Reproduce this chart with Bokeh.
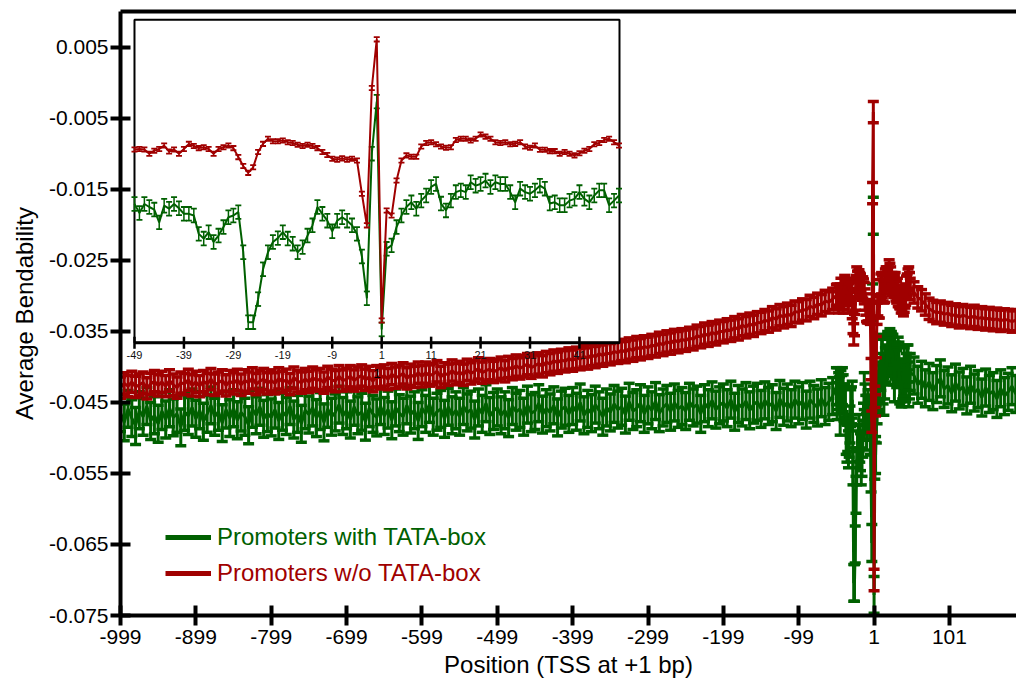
import math
from bokeh.plotting import figure
from bokeh.models import (Range1d, LinearAxis, FixedTicker, Legend, LegendItem,
                          ColumnDataSource, PrintfTickFormatter)
from bokeh.core.properties import value
from bokeh.embed import file_html
from bokeh.resources import INLINE

FONT = "Liberation Sans"
GREEN = "#006000"
RED = "#a00000"

# ---------------- data ----------------
# upstream region, sampled every 5 bp (-999 .. -54)
UP_POS = list(range(-999, -53, 5))
UP_RED = [
    -0.0429, -0.0423, -0.0427, -0.0421, -0.0428, -0.0425, -0.0422, -0.0430, -0.0424, -0.0420,
    -0.0426, -0.0421, -0.0427, -0.0419, -0.0425, -0.0429, -0.0422, -0.0424, -0.0418, -0.0426,
    -0.0421, -0.0427, -0.0420, -0.0424, -0.0417, -0.0425, -0.0422, -0.0419, -0.0426, -0.0420,
    -0.0423, -0.0418, -0.0425, -0.0419, -0.0422, -0.0416, -0.0424, -0.0420, -0.0417, -0.0423,
    -0.0419, -0.0423, -0.0416, -0.0421, -0.0418, -0.0424, -0.0415, -0.0420, -0.0422, -0.0417,
    -0.0421, -0.0415, -0.0419, -0.0417, -0.0422, -0.0414, -0.0418, -0.0420, -0.0413, -0.0419,
    -0.0417, -0.0413, -0.0419, -0.0415, -0.0412, -0.0418, -0.0414, -0.0420, -0.0413, -0.0416,
    -0.0412, -0.0417, -0.0410, -0.0415, -0.0413, -0.0409, -0.0416, -0.0411, -0.0414, -0.0408,
    -0.0413, -0.0408, -0.0412, -0.0410, -0.0406, -0.0414, -0.0409, -0.0411, -0.0405, -0.0410,
    -0.0407, -0.0411, -0.0404, -0.0409, -0.0406, -0.0402, -0.0408, -0.0405, -0.0403, -0.0407,
    -0.0404, -0.0401, -0.0406, -0.0400, -0.0403, -0.0398, -0.0402, -0.0399, -0.0396, -0.0401,
    -0.0398, -0.0395, -0.0399, -0.0393, -0.0396, -0.0391, -0.0394, -0.0390, -0.0392, -0.0388,
    -0.0391, -0.0387, -0.0389, -0.0385, -0.0388, -0.0383, -0.0386, -0.0381, -0.0384, -0.0380,
    -0.0382, -0.0378, -0.0380, -0.0376, -0.0379, -0.0374, -0.0377, -0.0372, -0.0375, -0.0371,
    -0.0373, -0.0369, -0.0371, -0.0366, -0.0369, -0.0364, -0.0367, -0.0362, -0.0365, -0.0361,
    -0.0363, -0.0359, -0.0361, -0.0356, -0.0358, -0.0353, -0.0356, -0.0351, -0.0354, -0.0349,
    -0.0351, -0.0347, -0.0349, -0.0344, -0.0347, -0.0341, -0.0344, -0.0339, -0.0342, -0.0337,
    -0.0338, -0.0334, -0.0336, -0.0330, -0.0333, -0.0327, -0.0330, -0.0325, -0.0328, -0.0322,
    -0.0323, -0.0319, -0.0320, -0.0314, -0.0317, -0.0311, -0.0313, -0.0307, -0.0309, -0.0304,
]
UP_GREEN = [
    -0.0465, -0.0478, -0.0459, -0.0472, -0.0483, -0.0461, -0.0470, -0.0455, -0.0476, -0.0468,
    -0.0480, -0.0462, -0.0474, -0.0458, -0.0471, -0.0466, -0.0485, -0.0463, -0.0469, -0.0457,
    -0.0473, -0.0461, -0.0477, -0.0466, -0.0454, -0.0470, -0.0463, -0.0479, -0.0460, -0.0472,
    -0.0458, -0.0475, -0.0464, -0.0470, -0.0482, -0.0459, -0.0468, -0.0456, -0.0473, -0.0465,
    -0.0471, -0.0460, -0.0476, -0.0463, -0.0469, -0.0455, -0.0474, -0.0466, -0.0480, -0.0461,
    -0.0467, -0.0457, -0.0472, -0.0462, -0.0478, -0.0459, -0.0470, -0.0464, -0.0453, -0.0469,
    -0.0461, -0.0474, -0.0456, -0.0468, -0.0463, -0.0477, -0.0458, -0.0466, -0.0471, -0.0455,
    -0.0469, -0.0460, -0.0475, -0.0457, -0.0465, -0.0470, -0.0454, -0.0467, -0.0461, -0.0476,
    -0.0458, -0.0466, -0.0452, -0.0470, -0.0463, -0.0459, -0.0473, -0.0456, -0.0468, -0.0461,
    -0.0470, -0.0455, -0.0464, -0.0460, -0.0474, -0.0457, -0.0466, -0.0451, -0.0469, -0.0462,
    -0.0457, -0.0468, -0.0461, -0.0472, -0.0455, -0.0463, -0.0459, -0.0470, -0.0453, -0.0465,
    -0.0462, -0.0451, -0.0467, -0.0458, -0.0464, -0.0454, -0.0471, -0.0460, -0.0456, -0.0466,
    -0.0455, -0.0463, -0.0450, -0.0468, -0.0459, -0.0465, -0.0453, -0.0461, -0.0470, -0.0457,
    -0.0464, -0.0452, -0.0460, -0.0456, -0.0467, -0.0449, -0.0462, -0.0458, -0.0451, -0.0466,
    -0.0454, -0.0461, -0.0448, -0.0465, -0.0457, -0.0452, -0.0463, -0.0450, -0.0459, -0.0455,
    -0.0462, -0.0449, -0.0457, -0.0453, -0.0466, -0.0451, -0.0458, -0.0447, -0.0460, -0.0454,
    -0.0450, -0.0458, -0.0446, -0.0463, -0.0452, -0.0457, -0.0448, -0.0461, -0.0453, -0.0449,
    -0.0459, -0.0447, -0.0455, -0.0451, -0.0462, -0.0445, -0.0456, -0.0450, -0.0458, -0.0446,
    -0.0454, -0.0448, -0.0460, -0.0446, -0.0452, -0.0457, -0.0444, -0.0455, -0.0449, -0.0441,
]

# core region around the TSS, every bp (-49 .. 49) -- also shown in the inset
CORE_POS = list(range(-49, 50))
CORE_RED = [
    -0.0299, -0.0298, -0.0299, -0.0309, -0.0302, -0.0298, -0.0290, -0.0304, -0.0299, -0.0309,
    -0.0298, -0.0286, -0.0291, -0.0296, -0.0294, -0.0298, -0.0309, -0.0298, -0.0294, -0.0290,
    -0.0296, -0.0317, -0.0338, -0.0354, -0.0341, -0.0305, -0.0286, -0.0274, -0.0280, -0.0280,
    -0.0278, -0.0282, -0.0284, -0.0288, -0.0291, -0.0288, -0.0291, -0.0296, -0.0305, -0.0312,
    -0.0321, -0.0323, -0.0320, -0.0323, -0.0321, -0.0325, -0.0403, -0.0477, -0.0155, -0.0041,
    -0.0700, -0.0442, -0.0454, -0.0372, -0.0325, -0.0313, -0.0316, -0.0316, -0.0292, -0.0284,
    -0.0282, -0.0287, -0.0292, -0.0295, -0.0294, -0.0277, -0.0274, -0.0274, -0.0278, -0.0274,
    -0.0264, -0.0269, -0.0274, -0.0282, -0.0284, -0.0282, -0.0287, -0.0286, -0.0282, -0.0292,
    -0.0295, -0.0290, -0.0300, -0.0300, -0.0303, -0.0303, -0.0309, -0.0305, -0.0309, -0.0313,
    -0.0308, -0.0302, -0.0298, -0.0287, -0.0284, -0.0277, -0.0274, -0.0282, -0.0290,
]
CORE_GREEN = [
    -0.0427, -0.0448, -0.0427, -0.0434, -0.0440, -0.0470, -0.0431, -0.0438, -0.0427, -0.0437,
    -0.0450, -0.0450, -0.0454, -0.0497, -0.0508, -0.0493, -0.0516, -0.0501, -0.0481, -0.0458,
    -0.0454, -0.0446, -0.0540, -0.0704, -0.0704, -0.0650, -0.0580, -0.0540, -0.0516, -0.0507,
    -0.0493, -0.0508, -0.0520, -0.0540, -0.0528, -0.0501, -0.0477, -0.0434, -0.0450, -0.0466,
    -0.0491, -0.0466, -0.0458, -0.0466, -0.0477, -0.0497, -0.0550, -0.0648, -0.0309, -0.0187,
    -0.0721, -0.0532, -0.0524, -0.0481, -0.0454, -0.0434, -0.0423, -0.0438, -0.0419, -0.0407,
    -0.0387, -0.0380, -0.0426, -0.0442, -0.0419, -0.0399, -0.0395, -0.0399, -0.0376, -0.0384,
    -0.0380, -0.0372, -0.0387, -0.0376, -0.0380, -0.0380, -0.0399, -0.0423, -0.0391, -0.0399,
    -0.0403, -0.0395, -0.0384, -0.0391, -0.0426, -0.0423, -0.0430, -0.0430, -0.0419, -0.0415,
    -0.0399, -0.0415, -0.0423, -0.0407, -0.0395, -0.0395, -0.0430, -0.0419, -0.0407,
]

# downstream region, every 5 bp (54 .. 189)
DOWN_POS = list(range(54, 190, 5))
DOWN_RED = [
    -0.0295, -0.0302, -0.0306, -0.0312, -0.0318, -0.0321, -0.0324, -0.0322, -0.0326, -0.0324,
    -0.0328, -0.0326, -0.0330, -0.0327, -0.0329, -0.0331, -0.0328, -0.0332, -0.0330, -0.0333,
    -0.0331, -0.0334, -0.0332, -0.0335, -0.0333, -0.0334, -0.0336, -0.0334,
]
DOWN_GREEN = [
    -0.0412, -0.0425, -0.0418, -0.0430, -0.0421, -0.0434, -0.0424, -0.0416, -0.0431, -0.0426,
    -0.0437, -0.0422, -0.0433, -0.0428, -0.0440, -0.0425, -0.0436, -0.0431, -0.0443, -0.0429,
    -0.0438, -0.0434, -0.0445, -0.0430, -0.0441, -0.0435, -0.0427, -0.0438,
]

# error-bar half widths
RED_ERR_MAIN = 0.0015
GREEN_ERR_MAIN = 0.0026
RED_ERR_INSET = 0.0005
GREEN_ERR_INSET = 0.0016

SERIES_NAMES = ["Promoters with TATA-box", "Promoters w/o TATA-box"]
X_TICKS = [-999, -899, -799, -699, -599, -499, -399, -299, -199, -99, 1, 101]
Y_TICKS = [0.005, -0.005, -0.015, -0.025, -0.035, -0.045, -0.055, -0.065, -0.075]
INSET_TICKS = [-49, -39, -29, -19, -9, 1, 11, 21, 31, 41]
INSET_TICK_LABELS = [str(t) for t in INSET_TICKS]
INSET_TITLE = "1"
X_TITLE = "Position (TSS at +1 bp)"
Y_TITLE = "Average Bendability"

# ---------------- layout constants ----------------
MAIN_X = (-999, 190)
MAIN_Y = (-0.075, 0.01007)
INSET_XR = (-51.83, 129.4)       # inset scale spread over the whole frame
INSET_YR = (-0.13916, 0.00243)
INSET_BOX_X = (-49.0, 49.1)
INSET_BOX_Y = (-0.0752, 0.0005)

p = figure(width=1016, height=688, output_backend="svg", toolbar_location=None,
           x_range=Range1d(*MAIN_X), y_range=Range1d(*MAIN_Y),
           min_border_left=120, min_border_right=0, min_border_top=11,
           min_border_bottom=73, outline_line_color=None,
           background_fill_color="white", border_fill_color="white")
p.extra_x_ranges = {"inset": Range1d(*INSET_XR)}
p.extra_y_ranges = {"inset": Range1d(*INSET_YR)}
p.grid.visible = False

for ax in (p.xaxis[0], p.yaxis[0]):
    ax.axis_line_width = 4
    ax.axis_line_color = "black"
    ax.major_tick_line_width = 4
    ax.major_tick_line_color = "black"
    ax.major_tick_in = 10
    ax.major_tick_out = 10
    ax.minor_tick_line_color = None
    ax.major_label_text_font = FONT
    ax.major_label_text_font_size = "21px"
    ax.major_label_text_color = "black"
    ax.axis_label_text_font = FONT
    ax.axis_label_text_font_size = "24px"
    ax.axis_label_text_font_style = "normal"
    ax.axis_label_text_color = "black"

p.xaxis.ticker = FixedTicker(ticks=X_TICKS)
p.xaxis.formatter = PrintfTickFormatter(format="%d")
p.xaxis.major_label_standoff = 4
p.xaxis.axis_label = X_TITLE
p.xaxis.axis_label_standoff = 4
p.yaxis.ticker = FixedTicker(ticks=Y_TICKS)
p.yaxis.formatter = PrintfTickFormatter(format="%.3f")
p.yaxis.major_label_standoff = 2
p.yaxis.axis_label = Y_TITLE
p.yaxis.axis_label_standoff = 8

top_axis = LinearAxis(ticker=FixedTicker(ticks=[]), axis_line_width=4,
                      axis_line_color="black", major_tick_line_color=None,
                      minor_tick_line_color=None, major_label_text_font_size="0px")
p.add_layout(top_axis, "above")


def draw_series(xs, ys, err, color, lw, stem_w, cap_size, cap_w, **rng):
    lo = [y - err for y in ys]
    hi = [y + err for y in ys]
    src = ColumnDataSource(dict(x=xs, y=ys, lo=lo, hi=hi))
    p.segment(x0="x", y0="lo", x1="x", y1="hi", source=src, line_color=color,
              line_width=stem_w, **rng)
    p.scatter(x="x", y="lo", source=src, marker="dash", size=cap_size,
              line_color=color, line_width=cap_w, **rng)
    p.scatter(x="x", y="hi", source=src, marker="dash", size=cap_size,
              line_color=color, line_width=cap_w, **rng)
    p.line(x="x", y="y", source=src, line_color=color, line_width=lw, **rng)


main_x = UP_POS + CORE_POS + DOWN_POS
main_green = UP_GREEN + CORE_GREEN + DOWN_GREEN
main_red = UP_RED + CORE_RED + DOWN_RED

draw_series(main_x, main_green, GREEN_ERR_MAIN, GREEN, 3, 3, 11, 3.5)
draw_series(main_x, main_red, RED_ERR_MAIN, RED, 3, 3, 11, 3.5)

# ---------------- inset ----------------
inset = dict(x_range_name="inset", y_range_name="inset")
box = ColumnDataSource(dict(l=[INSET_BOX_X[0]], r=[INSET_BOX_X[1]],
                            b=[INSET_BOX_Y[0]], t=[INSET_BOX_Y[1]]))
p.quad(left="l", right="r", bottom="b", top="t", source=box, fill_color="white",
       line_color="black", line_width=2, **inset)

draw_series(CORE_POS, CORE_GREEN, GREEN_ERR_INSET, GREEN, 2, 1.5, 6, 1.8, **inset)
draw_series(CORE_POS, CORE_RED, RED_ERR_INSET, RED, 2, 1.5, 6, 1.8, **inset)

# inset x axis
p.segment(x0="l", y0="b", x1="r", y1="b", source=box, line_color="black",
          line_width=3, **inset)
tsrc = ColumnDataSource(dict(x=INSET_TICKS, y=[INSET_BOX_Y[0]] * len(INSET_TICKS),
                             t=INSET_TICK_LABELS))
p.scatter(x="x", y="y", source=tsrc, marker="dash", angle=math.pi / 2, size=12,
          line_color="black", line_width=2.5, **inset)
p.text(x="x", y="y", text="t", source=tsrc, y_offset=8, text_align="center",
       text_baseline="top", text_font=value(FONT), text_font_size="11px",
       text_color="#111111", **inset)
ttl = ColumnDataSource(dict(x=[(INSET_BOX_X[0] + INSET_BOX_X[1]) / 2],
                            y=[INSET_BOX_Y[0]], t=[INSET_TITLE]))
p.text(x="x", y="y", text="t", source=ttl, y_offset=31, text_align="center",
       text_baseline="middle", text_font=value(FONT), text_font_size="13px",
       text_color="black", **inset)

# ---------------- legends ----------------
nan = float("nan")
for name, color, loc in ((SERIES_NAMES[0], GREEN, (45, 64)),
                         (SERIES_NAMES[1], RED, (45, 28))):
    r = p.line(x=[nan, nan], y=[nan, nan], line_color=color, line_width=5)
    leg = Legend(items=[LegendItem(label=name, renderers=[r])], location=loc,
                 label_text_font=FONT, label_text_font_size="24px",
                 label_text_color=color, glyph_width=46, glyph_height=24,
                 label_height=24, label_standoff=6, padding=0, margin=0,
                 spacing=0, border_line_alpha=0, background_fill_alpha=0)
    p.add_layout(leg)

open("out.html", "w").write(file_html(p, INLINE))
